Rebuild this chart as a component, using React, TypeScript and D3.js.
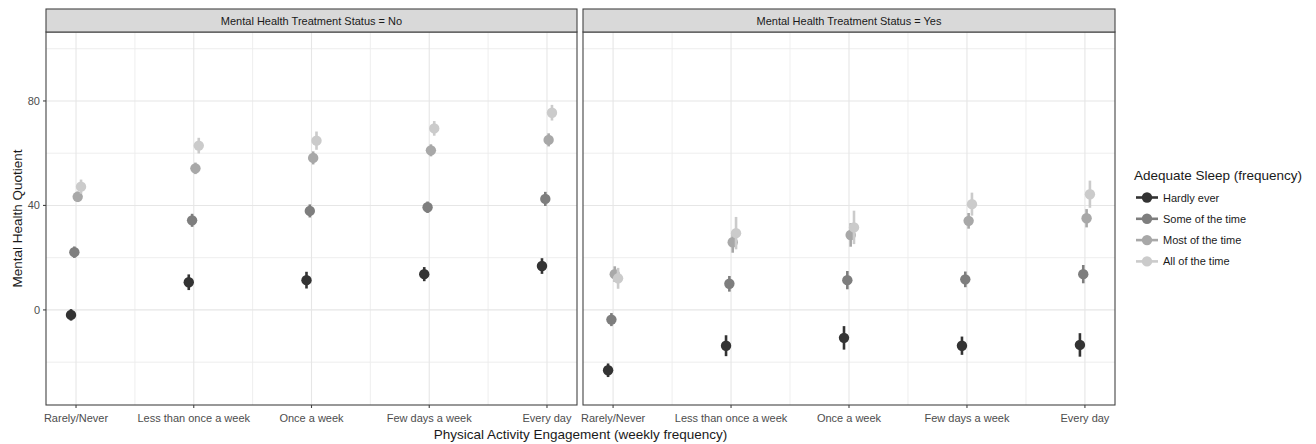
import { useRef, useEffect } from 'react'
import * as d3 from 'd3'

// Physical activity categories (x axis)
const categories = ['Rarely/Never', 'Less than once a week', 'Once a week', 'Few days a week', 'Every day']
// Adequate sleep levels (colour groups)
const sleepLevels = ['Hardly ever', 'Some of the time', 'Most of the time', 'All of the time']
const sleepColors = ['#333333', '#7e7e7e', '#a8a8a8', '#cbcbcb']
// Facets
const treatmentStatus = ['No', 'Yes']

const yTicks = [0, 40, 80]
const yMinorTicks = [-20, 20, 60, 100]

// Mean Mental Health Quotient, one row per sleep level, one value per category
const meanNo = [
    [-1.9, 10.6, 11.4, 13.7, 16.8],
    [22.1, 34.3, 37.9, 39.3, 42.5],
    [43.3, 54.2, 58.2, 61.1, 65.1],
    [47.2, 62.9, 64.8, 69.5, 75.5],
]
const ciNo = [
    [2.2, 3.0, 3.2, 2.7, 3.0],
    [2.2, 2.5, 2.5, 2.2, 2.7],
    [2.0, 2.2, 2.5, 2.3, 2.5],
    [2.7, 3.0, 3.5, 2.8, 3.0],
]
const meanYes = [
    [-23.1, -13.7, -10.7, -13.7, -13.4],
    [-3.7, 10.0, 11.4, 11.7, 13.7],
    [13.7, 25.9, 28.7, 34.1, 35.1],
    [12.1, 29.4, 31.6, 40.5, 44.3],
]
const ciYes = [
    [2.6, 4.0, 4.5, 3.5, 4.5],
    [2.5, 3.0, 3.5, 3.0, 3.5],
    [3.0, 4.0, 4.5, 3.0, 3.5],
    [4.0, 6.2, 6.4, 4.4, 5.2],
]

const FONT = '"Liberation Sans", Arial, sans-serif'

export default function App() {
    const svgRef = useRef<SVGSVGElement | null>(null)

    useEffect(() => {
        if (!svgRef.current) return
        const svg = d3.select(svgRef.current)
        svg.selectAll('*').remove()

        const width = 1316
        const height = 444
        svg.attr('width', width).attr('height', height)

        const panelTop = 32
        const panelBottom = 405
        const stripTop = 9
        const panels = [
            { left: 46, right: 577, status: treatmentStatus[0], mean: meanNo, ci: ciNo },
            { left: 583, right: 1115, status: treatmentStatus[1], mean: meanYes, ci: ciYes },
        ]

        const y = d3.scaleLinear().domain([-36.4, 106.4]).range([panelBottom, panelTop])
        const dodge = d3.scalePoint().domain(sleepLevels).range([-5, 5])

        panels.forEach((p, pi) => {
            const x = d3.scalePoint()
                .domain(categories)
                .range([p.left, p.right])
                .padding(0.255)
            const step = x.step()

            const g = svg.append('g')

            // background
            g.append('rect')
                .attr('x', p.left).attr('y', panelTop)
                .attr('width', p.right - p.left).attr('height', panelBottom - panelTop)
                .style('fill', '#ffffff')

            // minor grid
            g.selectAll('.hminor')
                .data(yMinorTicks)
                .enter()
                .append('line')
                .attr('x1', p.left).attr('x2', p.right)
                .attr('y1', d => y(d)).attr('y2', d => y(d))
                .style('stroke', '#ececec')
                .style('stroke-width', 0.9)

            g.selectAll('.vminor')
                .data(categories.slice(0, -1))
                .enter()
                .append('line')
                .attr('x1', d => x(d)! + step / 2).attr('x2', d => x(d)! + step / 2)
                .attr('y1', panelTop).attr('y2', panelBottom)
                .style('stroke', '#ececec')
                .style('stroke-width', 0.9)

            // major grid
            g.selectAll('.hmajor')
                .data(yTicks)
                .enter()
                .append('line')
                .attr('x1', p.left).attr('x2', p.right)
                .attr('y1', d => y(d)).attr('y2', d => y(d))
                .style('stroke', '#e6e6e6')
                .style('stroke-width', 1.1)

            g.selectAll('.vmajor')
                .data(categories)
                .enter()
                .append('line')
                .attr('x1', d => x(d)!).attr('x2', d => x(d)!)
                .attr('y1', panelTop).attr('y2', panelBottom)
                .style('stroke', '#e6e6e6')
                .style('stroke-width', 1.1)

            // points with error bars
            sleepLevels.forEach((lvl, li) => {
                const rows = categories.map((c, ci) => ({
                    cx: x(c)! + dodge(lvl)!,
                    m: p.mean[li][ci],
                    e: p.ci[li][ci],
                }))
                g.selectAll(`.err-${li}`)
                    .data(rows)
                    .enter()
                    .append('line')
                    .attr('x1', d => d.cx).attr('x2', d => d.cx)
                    .attr('y1', d => y(d.m - d.e)).attr('y2', d => y(d.m + d.e))
                    .style('stroke', sleepColors[li])
                    .style('stroke-width', 2.6)

                g.selectAll(`.pt-${li}`)
                    .data(rows)
                    .enter()
                    .append('circle')
                    .attr('cx', d => d.cx)
                    .attr('cy', d => y(d.m))
                    .attr('r', 5.2)
                    .style('fill', sleepColors[li])
            })

            // panel border
            g.append('rect')
                .attr('x', p.left).attr('y', panelTop)
                .attr('width', p.right - p.left).attr('height', panelBottom - panelTop)
                .style('fill', 'none')
                .style('stroke', '#444444')
                .style('stroke-width', 1.1)

            // strip
            g.append('rect')
                .attr('x', p.left).attr('y', stripTop)
                .attr('width', p.right - p.left).attr('height', panelTop - stripTop)
                .style('fill', '#d9d9d9')
                .style('stroke', '#444444')
                .style('stroke-width', 1.1)
            g.append('text')
                .attr('x', (p.left + p.right) / 2)
                .attr('y', (stripTop + panelTop) / 2 + 4)
                .attr('text-anchor', 'middle')
                .style('font-family', FONT)
                .style('font-size', '11px')
                .style('fill', '#1a1a1a')
                .text(`Mental Health Treatment Status = ${p.status}`)

            // x axis
            const xa = g.append('g').attr('transform', `translate(0,${panelBottom})`)
            xa.selectAll('line')
                .data(categories)
                .enter()
                .append('line')
                .attr('x1', d => x(d)!).attr('x2', d => x(d)!)
                .attr('y1', 0).attr('y2', 3)
                .style('stroke', '#444444')
                .style('stroke-width', 1.1)
            xa.selectAll('text')
                .data(categories)
                .enter()
                .append('text')
                .attr('x', d => x(d)!)
                .attr('y', 17)
                .attr('text-anchor', 'middle')
                .style('font-family', FONT)
                .style('font-size', '11px')
                .style('fill', '#4d4d4d')
                .text(d => d)

            // y axis on first panel only
            if (pi === 0) {
                const ya = g.append('g')
                ya.selectAll('line')
                    .data(yTicks)
                    .enter()
                    .append('line')
                    .attr('x1', p.left - 3).attr('x2', p.left)
                    .attr('y1', d => y(d)).attr('y2', d => y(d))
                    .style('stroke', '#444444')
                    .style('stroke-width', 1.1)
                ya.selectAll('text')
                    .data(yTicks)
                    .enter()
                    .append('text')
                    .attr('x', p.left - 6)
                    .attr('y', d => y(d) + 4)
                    .attr('text-anchor', 'end')
                    .style('font-family', FONT)
                    .style('font-size', '11px')
                    .style('fill', '#4d4d4d')
                    .text(d => d)
            }
        })

        // axis titles
        svg.append('text')
            .attr('x', (panels[0].left + panels[1].right) / 2)
            .attr('y', 439)
            .attr('text-anchor', 'middle')
            .style('font-family', FONT)
            .style('font-size', '13.5px')
            .style('fill', '#1a1a1a')
            .text('Physical Activity Engagement (weekly frequency)')

        svg.append('text')
            .attr('transform', `translate(22,${(panelTop + panelBottom) / 2}) rotate(-90)`)
            .attr('text-anchor', 'middle')
            .style('font-family', FONT)
            .style('font-size', '13.5px')
            .style('fill', '#1a1a1a')
            .text('Mental Health Quotient')

        // legend
        const lg = svg.append('g').attr('transform', 'translate(1134,0)')
        lg.append('text')
            .attr('x', 0).attr('y', 180)
            .style('font-family', FONT)
            .style('font-size', '13.5px')
            .style('fill', '#1a1a1a')
            .text('Adequate Sleep (frequency)')

        const item = lg.selectAll('.item')
            .data(sleepLevels)
            .enter()
            .append('g')
            .attr('transform', (d, i) => `translate(0,${197.5 + i * 21.3})`)
        item.append('line')
            .attr('x1', 2).attr('x2', 24)
            .attr('y1', 0).attr('y2', 0)
            .style('stroke', (d, i) => sleepColors[i])
            .style('stroke-width', 2.6)
        item.append('circle')
            .attr('cx', 13).attr('cy', 0).attr('r', 5.2)
            .style('fill', (d, i) => sleepColors[i])
        item.append('text')
            .attr('x', 29).attr('y', 4)
            .style('font-family', FONT)
            .style('font-size', '11px')
            .style('fill', '#1a1a1a')
            .text(d => d)
    }, [])

    return (
        <svg ref={svgRef} style={{ position: 'absolute', left: 0, top: 0, background: '#fff' }} />
    )
}
